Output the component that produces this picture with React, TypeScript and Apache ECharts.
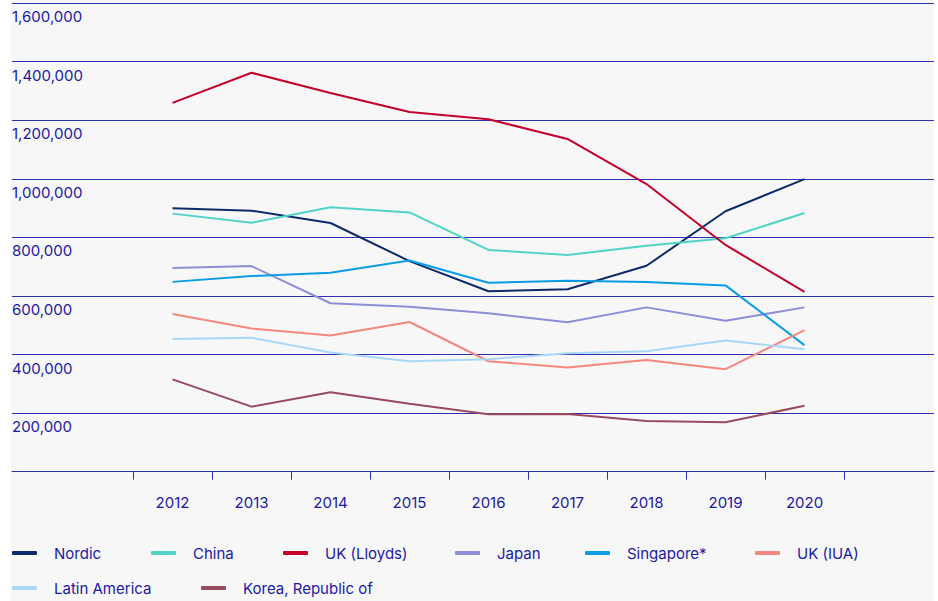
import React, { useEffect, useRef } from "react";
import * as echarts from "echarts";

const years = ["2012", "2013", "2014", "2015", "2016", "2017", "2018", "2019", "2020"];
const yTicks = [0, 200000, 400000, 600000, 800000, 1000000, 1200000, 1400000, 1600000];

const nordic = [899000, 891000, 849000, 719000, 616000, 623000, 703000, 889000, 999000];
const china = [881000, 850000, 903000, 885000, 757000, 740000, 771000, 797000, 883000];
const ukLloyds = [1259000, 1362000, 1293000, 1228000, 1203000, 1136000, 982000, 774000, 614000];
const japan = [695000, 702000, 575000, 563000, 541000, 510000, 561000, 515000, 561000];
const singapore = [648000, 668000, 679000, 721000, 645000, 652000, 648000, 636000, 432000];
const ukIUA = [538000, 489000, 465000, 511000, 377000, 356000, 381000, 350000, 483000];
const latinAmerica = [453000, 457000, 407000, 377000, 384000, 404000, 411000, 448000, 418000];
const korea = [315000, 222000, 271000, 232000, 196000, 197000, 173000, 169000, 225000];

const seriesNames = [
  "Nordic",
  "China",
  "UK (Lloyds)",
  "Japan",
  "Singapore*",
  "UK (IUA)",
  "Latin America",
  "Korea, Republic of",
];
const seriesData = [nordic, china, ukLloyds, japan, singapore, ukIUA, latinAmerica, korea];
const seriesColors = [
  "#0c2b6b",
  "#4fd4c6",
  "#c4002b",
  "#8d8dd8",
  "#0a9de6",
  "#f5877f",
  "#a9d8f6",
  "#9a4a5e",
];

// legend layout (pixel positions of each legend entry)
const legendLeft = [12, 151, 283, 455, 585, 755, 12, 201];
const legendTop = [545, 545, 545, 545, 545, 545, 580, 580];

const TEXT = "#1a1aa6";
const GRID = "#3030b0";
const FONT = "Inter, 'Noto Sans', sans-serif";

export default function App() {
  const ref = useRef<HTMLDivElement>(null);
  useEffect(() => {
    if (!ref.current) return;
    const chart = echarts.init(ref.current, null, { renderer: "svg" });
    const top = 3;
    const height = 468.7;
    const yMax = yTicks[yTicks.length - 1];
    const yStep = yTicks[1] - yTicks[0];
    const legendText = {
      color: TEXT,
      fontSize: 15,
      fontFamily: FONT,
      lineHeight: 16,
      padding: [0, 0, 0, 12],
    };
    chart.setOption({
      animation: false,
      graphic: [
        {
          type: "rect",
          shape: { x: 11, y: 0, width: 923, height: 601 },
          style: { fill: "#f7f7f7" },
          z: -10,
          silent: true,
        },
      ],
      grid: [
        { left: 12, right: 4, top, height },
        { left: 133, right: 94, top, height },
      ],
      xAxis: [
        {
          type: "category",
          gridIndex: 0,
          data: [""],
          axisLine: { show: true, lineStyle: { color: GRID, width: 1 } },
          axisTick: { show: false },
          axisLabel: { show: false },
        },
        {
          type: "category",
          gridIndex: 1,
          data: years,
          boundaryGap: true,
          axisLine: { show: false },
          axisTick: { show: true, length: 8, lineStyle: { color: GRID, width: 1 } },
          axisLabel: {
            color: TEXT,
            fontSize: 15,
            fontFamily: FONT,
            margin: 23,
          },
        },
      ],
      yAxis: [
        {
          type: "value",
          gridIndex: 0,
          min: 0,
          max: yMax,
          interval: yStep,
          axisLine: { show: false },
          axisTick: { show: false },
          splitLine: { show: true, lineStyle: { color: GRID, width: 1 } },
          axisLabel: {
            inside: true,
            align: "left",
            verticalAlign: "top",
            lineHeight: 15,
            padding: [6, 0, 0, 0],
            margin: 0,
            color: TEXT,
            fontSize: 15,
            fontFamily: FONT,
            formatter: (v: number) => (v === 0 ? "" : v.toLocaleString("en-US")),
          },
        },
        {
          type: "value",
          gridIndex: 1,
          min: 0,
          max: yMax,
          interval: yStep,
          show: false,
          splitLine: { show: false },
        },
      ],
      legend: seriesNames.map((name, i) => ({
        data: [name],
        left: legendLeft[i],
        top: legendTop[i],
        padding: 0,
        itemWidth: 25,
        itemHeight: 4,
        icon: "roundRect",
        textStyle: legendText,
      })),
      series: seriesNames.map((name, i) => ({
        name,
        type: "line",
        xAxisIndex: 1,
        yAxisIndex: 1,
        data: seriesData[i],
        symbol: "none",
        color: seriesColors[i],
        lineStyle: { color: seriesColors[i], width: 2 },
      })),
    });
    return () => chart.dispose();
  }, []);
  return (
    <div
      ref={ref}
      style={{ position: "absolute", left: 0, top: 0, width: 938, height: 601, background: "#ffffff" }}
    />
  );
}
